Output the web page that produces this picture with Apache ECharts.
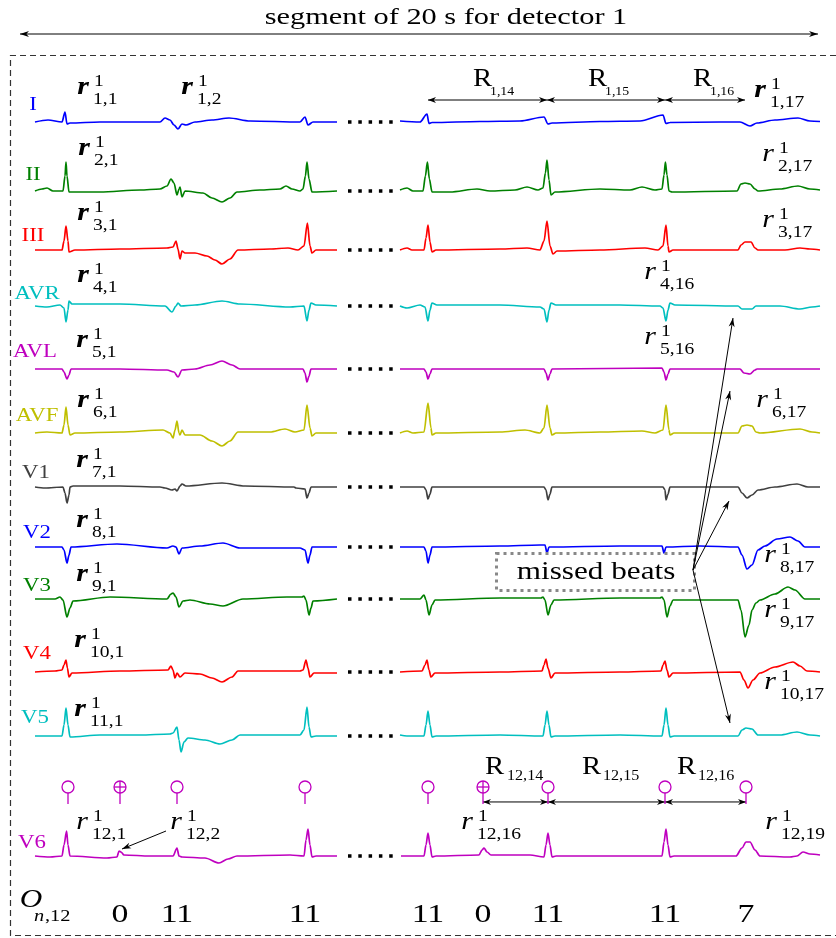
<!DOCTYPE html>
<html><head><meta charset="utf-8">
<script src="https://cdn.jsdelivr.net/npm/echarts@6/dist/echarts.min.js"></script>
<style>html,body{margin:0;padding:0;background:#fff}#c{width:836px;height:938px}</style>
</head><body><div id="c"></div>
<script>
// ---------------- DATA ----------------
const leadNames = ['I','II','III','AVR','AVL','AVF','V1','V2','V3','V4','V5','V6'];
// time (s), amplitude (mV) ; segment A (start of record) and segment B (end of record)
const lead01A = [[0,0],[0.325,0.2],[0.675,0],[0.75,1.0],[0.8,-0.2],[0.875,-0.1],[1.625,0],[3.125,0],[3.25,0.4],[3.375,0.2],[3.475,-0.3],[3.575,-0.7],[3.675,-0.2],[3.775,-0.3],[4.0,0],[4.425,0.2],[4.85,0.4],[5.375,0.1],[6.625,0],[6.75,0.5],[6.825,-0.3],[6.95,0],[7.55,0]];
const lead01B = [[9.125,0.1],[9.625,0],[9.8,0.8],[9.85,-0.15],[9.925,-0.05],[11.125,0.05],[12.125,0.1],[12.725,0.5],[12.825,-0.2],[12.925,-0.1],[14.125,0.05],[15.125,0.1],[15.7,0.7],[15.775,-0.15],[15.875,-0.05],[17.125,0],[17.625,0],[17.875,-0.4],[18.05,-0.1],[18.5,0.2],[19.075,0.4],[19.375,0.1],[19.625,0.05]];
const lead02A = [[0,0],[0.175,0.2],[0.3,0.3],[0.45,0],[0.7,0],[0.75,1.5],[0.775,2.9],[0.8,1.5],[0.85,-0.1],[1.625,-0.1],[2.625,0.1],[3.125,0.2],[3.3,0.5],[3.4,1.2],[3.475,0.8],[3.55,-0.4],[3.6,0.2],[3.625,0.4],[3.675,-0.6],[3.75,0],[4.2,-0.2],[4.425,-0.7],[4.675,-1.1],[4.875,-0.7],[5.05,-0.1],[5.625,0.1],[6.125,0.2],[6.275,0.5],[6.425,0.2],[6.625,0],[6.7,0.2],[6.76,1.5],[6.8,2.9],[6.85,1.2],[6.925,-0.1],[7.55,0]];
const lead02B = [[9.125,0.1],[9.3,0.3],[9.45,0],[9.7,0],[9.76,1.5],[9.81,2.9],[9.86,1.2],[9.925,-0.1],[10.375,-0.1],[11.05,0.2],[11.375,0],[12.0,0.1],[12.3,0.4],[12.575,0.1],[12.7,0.3],[12.76,1.8],[12.8,3.1],[12.85,1.1],[12.9,-0.4],[13.0,-0.1],[14.125,0.2],[14.875,0.1],[15.175,0.4],[15.5,0.1],[15.675,0.2],[15.725,1.6],[15.76,2.9],[15.8,1.6],[15.85,0],[15.925,-0.1],[17.55,0],[17.65,0.7],[17.75,0.8],[17.875,0.7],[18.0,0.2],[18.075,0],[18.625,0.2],[19.075,0.5],[19.375,0.2],[19.625,0.1]];
const lead03A = [[0,0],[0.675,0],[0.725,0.9],[0.775,2.4],[0.825,0.9],[0.85,-0.2],[1.0,0],[2.125,0.1],[3.3,0.2],[3.45,0.3],[3.525,0.9],[3.575,0.1],[3.625,-0.9],[3.675,-0.1],[3.75,-0.3],[4.0,-0.3],[4.3,-0.6],[4.5,-1.0],[4.675,-1.4],[4.875,-0.9],[5.075,0],[5.875,0.1],[6.325,0.2],[6.575,0],[6.725,0.4],[6.81,2.7],[6.875,0.4],[6.925,-0.3],[7.025,0],[7.55,0]];
const lead03B = [[9.125,0],[9.3,0.2],[9.425,0],[9.725,0],[9.775,1.2],[9.825,2.5],[9.875,0.8],[9.925,-0.2],[10.025,0],[11.625,0.1],[12.3,0.2],[12.625,0],[12.725,0.9],[12.8,2.9],[12.875,0.4],[12.95,-0.4],[13.05,-0.1],[14.125,0],[15.25,0.2],[15.575,0],[15.7,0.4],[15.775,2.5],[15.825,0.4],[15.85,-0.2],[15.95,0],[17.575,0],[17.65,0.5],[17.75,0.8],[17.9,0.8],[18.0,0.2],[18.075,0],[18.75,0],[19.125,0.2],[19.375,0.1],[19.625,0]];
const lead04A = [[0,0],[0.3,-0.1],[0.625,0.1],[0.725,-0.2],[0.775,-1.6],[0.825,-0.4],[0.85,0.5],[0.925,0.2],[2.125,0.2],[3.25,0],[3.425,-0.6],[3.525,0],[3.575,0.3],[3.65,0],[4.0,0.1],[4.675,0.5],[5.125,0.2],[6.375,-0.1],[6.725,0],[6.8,-1.5],[6.85,-0.4],[6.9,0.3],[7.025,0.1],[7.55,0]];
const lead04B = [[9.125,0],[9.3,-0.2],[9.625,0.1],[9.75,-0.1],[9.825,-1.5],[9.875,-0.4],[9.925,0.3],[10.05,0.1],[11.625,0.1],[12.625,-0.1],[12.725,-0.3],[12.8,-1.6],[12.85,-0.4],[12.9,0.3],[13.025,0.1],[14.625,0.1],[15.625,0],[15.7,-0.2],[15.775,-1.5],[15.825,-0.4],[15.875,0.3],[16.0,0.1],[17.575,0],[17.675,-0.3],[17.925,-0.3],[18.025,0],[18.625,0],[19.125,-0.3],[19.425,-0.1],[19.625,0]];
const lead05A = [[0,0],[0.675,0],[0.725,-0.3],[0.8,-1.0],[0.85,-0.6],[0.9,0],[2.125,0],[3.3,-0.1],[3.475,-0.3],[3.575,-0.8],[3.675,-0.1],[4.0,0],[4.375,0.4],[4.675,0.8],[4.925,0.4],[5.125,0],[6.7,0],[6.75,-0.4],[6.8,-1.3],[6.85,-0.7],[6.9,0],[7.55,0]];
const lead05B = [[9.125,0],[9.725,0],[9.775,-0.3],[9.825,-1.0],[9.875,-0.5],[9.925,0],[12.725,0],[12.775,-0.4],[12.825,-1.1],[12.875,-0.5],[12.925,0],[15.675,0.1],[15.725,-0.3],[15.775,-1.1],[15.825,-0.5],[15.875,0],[17.625,0],[17.725,-0.4],[17.875,-0.5],[18.0,-0.1],[18.05,0],[19.625,0]];
const lead06A = [[0,0],[0.3,0.1],[0.675,0],[0.725,0.8],[0.775,2.6],[0.825,0.8],[0.875,-0.2],[1.0,0],[2.125,0.1],[3.2,0.3],[3.375,0],[3.45,-0.5],[3.5,0.3],[3.55,1.2],[3.6,0],[3.625,-0.2],[3.675,0.3],[3.75,-0.2],[4.125,-0.2],[4.425,-0.8],[4.675,-1.3],[4.875,-0.8],[5.075,0.1],[5.875,0.1],[6.25,0.4],[6.5,0.1],[6.725,0.3],[6.8,2.8],[6.875,0.5],[6.925,-0.3],[7.025,0],[7.55,0]];
const lead06B = [[9.125,0],[9.3,0.2],[9.45,0],[9.725,0.1],[9.825,3.0],[9.9,0.5],[9.925,-0.2],[10.025,0],[11.625,0.1],[12.25,0.3],[12.625,0],[12.725,0.5],[12.8,2.8],[12.875,0.5],[12.925,-0.2],[13.025,0],[14.125,0.1],[15.175,0.2],[15.5,0],[15.7,0.3],[15.775,2.8],[15.85,0.3],[15.875,-0.2],[15.975,0],[17.575,0],[17.675,0.7],[17.8,0.8],[17.925,0.7],[18.025,0.1],[18.125,0],[19.125,0.4],[19.425,0.1],[19.625,0]];
const lead07A = [[0,0],[0.25,-0.1],[0.7,0],[0.75,-0.6],[0.8,-1.6],[0.85,-0.8],[0.875,0],[0.95,0.1],[2.125,0.1],[3.125,0],[3.25,-0.1],[3.425,-0.3],[3.5,-0.2],[3.55,-0.4],[3.625,0.1],[3.675,0.3],[3.775,0.1],[4.675,0.4],[5.25,0.1],[6.475,0],[6.525,-0.1],[6.75,-0.2],[6.8,-1.1],[6.85,-0.6],[6.9,0],[7.55,0]];
const lead07B = [[9.125,0],[9.725,0],[9.775,-0.3],[9.825,-1.2],[9.875,-0.7],[9.925,0],[12.725,0],[12.775,-0.3],[12.825,-1.3],[12.875,-0.7],[12.925,0],[15.7,0],[15.75,-0.3],[15.775,-1.3],[15.825,-0.7],[15.875,0],[17.575,0],[17.675,-0.6],[17.8,-1.1],[17.925,-0.8],[18.075,-0.3],[18.5,0],[19.05,0.3],[19.325,0],[19.625,0]];
const lead08A = [[0,0],[0.675,0],[0.725,-0.3],[0.8,-1.6],[0.85,-0.8],[0.9,0],[2.05,0.3],[3.3,-0.1],[3.45,0.1],[3.525,0],[3.6,-0.7],[3.675,-0.1],[4.125,0.1],[4.7,0.4],[5.125,-0.1],[6.625,-0.1],[6.75,-0.3],[6.825,-1.6],[6.875,-0.8],[6.925,0],[7.55,0]];
const lead08B = [[9.125,0],[9.725,0],[9.775,-0.4],[9.825,-1.6],[9.875,-0.8],[9.925,0],[11.625,0.1],[12.625,0.2],[12.75,0.2],[12.8,-0.6],[12.85,0],[14.625,0.1],[15.675,0.1],[15.725,-0.6],[15.775,0],[16.625,0.1],[17.575,0],[17.675,-0.8],[17.8,-2.2],[17.925,-1.8],[18.075,-0.3],[18.25,0.1],[18.55,0.8],[18.875,1.0],[19.075,0.6],[19.25,0],[19.625,0]];
const lead09A = [[0,0],[0.5,0],[0.625,0.2],[0.7,-0.1],[0.8,-1.8],[0.875,-0.9],[0.95,-0.2],[1.875,0.2],[3.3,0],[3.4,0.5],[3.45,0.6],[3.525,0.2],[3.6,-0.8],[3.7,-0.2],[3.875,-0.1],[4.375,-0.5],[4.7,-0.7],[5.2,0],[6.3,0.2],[6.675,0.2],[6.725,0.3],[6.775,-0.1],[6.85,-1.6],[6.9,-0.9],[6.95,-0.2],[7.55,0]];
const lead09B = [[9.125,0],[9.625,0],[9.725,0.4],[9.775,-0.1],[9.85,-1.6],[9.925,-0.6],[10.0,-0.1],[11.625,0.1],[12.65,0.1],[12.7,0.2],[12.75,-0.1],[12.825,-1.6],[12.9,-0.6],[12.975,-0.1],[14.625,0.1],[15.625,0.1],[15.675,0.2],[15.725,-0.1],[15.8,-1.8],[15.875,-0.7],[15.95,-0.1],[17.575,-0.1],[17.65,-1.1],[17.75,-3.8],[17.85,-2.6],[17.925,-1.1],[18.025,-0.4],[18.125,-0.1],[18.5,0.5],[18.825,1.2],[19.0,0.9],[19.25,0],[19.625,0]];
const lead10A = [[0,0],[0.5,0.1],[0.675,0.2],[0.725,0.7],[0.775,1.2],[0.81,0.4],[0.85,-0.5],[0.925,-0.1],[2.125,0.1],[3.325,0.2],[3.4,0.6],[3.45,0.2],[3.5,-0.6],[3.55,-0.1],[3.625,-0.5],[3.75,-0.1],[4.125,-0.2],[4.425,-0.6],[4.675,-1.0],[4.925,-0.5],[5.075,0.1],[6.625,0.1],[6.7,0.2],[6.775,1.2],[6.825,0.4],[6.875,-0.5],[6.975,-0.1],[7.55,-0.1]];
const lead10B = [[9.125,0],[9.675,0.1],[9.75,0.7],[9.8,1.2],[9.85,0.2],[9.9,-0.5],[10.0,-0.1],[11.625,0],[12.675,0.1],[12.725,0.7],[12.775,1.3],[12.825,0.4],[12.9,-0.6],[13.0,-0.1],[14.625,0],[15.65,0.1],[15.7,0.7],[15.75,1.1],[15.8,0.2],[15.85,-0.5],[15.95,-0.1],[17.625,0],[17.725,-0.8],[17.825,-1.6],[17.95,-0.8],[18.125,-0.1],[18.5,0.5],[18.95,1.0],[19.125,0.6],[19.3,0.1],[19.625,0]];
const lead11A = [[0,0],[0.675,0],[0.725,1.1],[0.775,2.8],[0.825,1.1],[0.875,-0.1],[1.625,0.1],[2.625,0.1],[3.375,0.2],[3.45,0.3],[3.55,0.9],[3.6,-0.4],[3.65,-1.6],[3.725,-0.6],[3.825,-0.2],[4.25,-0.4],[4.625,-0.8],[4.925,-0.4],[5.125,0.1],[6.625,0.1],[6.725,0.6],[6.8,2.9],[6.85,0.9],[6.9,-0.1],[7.025,0],[7.55,0]];
const lead11B = [[9.125,0.1],[9.3,0],[9.725,0],[9.775,1.1],[9.825,2.5],[9.875,1.1],[9.925,-0.1],[10.025,0],[11.625,0.1],[12.7,0],[12.75,1.1],[12.8,2.5],[12.85,1.1],[12.9,-0.1],[13.0,0],[14.625,0.1],[15.675,0],[15.725,1.1],[15.775,2.8],[15.825,1.1],[15.875,-0.1],[15.975,0],[17.575,0],[17.675,0.6],[17.775,0.8],[17.925,0.7],[18.075,0.1],[18.625,0.1],[19.05,0.4],[19.375,0.1],[19.625,0]];
const lead12A = [[0,0],[0.375,-0.1],[0.675,0],[0.725,1.1],[0.79,2.5],[0.825,1.1],[0.875,0],[1.8,-0.2],[2.05,-0.1],[2.1,0.5],[2.15,0.4],[2.225,0.1],[2.875,0],[3.45,0],[3.55,0.8],[3.6,0],[3.675,-0.1],[4.25,-0.2],[4.6,-0.7],[4.825,-0.3],[5.05,0],[6.375,0.1],[6.725,0],[6.775,1.6],[6.825,2.7],[6.875,1.1],[6.925,-0.1],[7.025,0],[7.55,0]];
const lead12B = [[9.15,0],[9.725,0],[9.775,1.1],[9.825,2.3],[9.875,1.1],[9.925,-0.1],[10.025,0],[11.1,0.1],[11.175,0.6],[11.225,0.8],[11.3,0.4],[11.4,0.1],[12.375,0.1],[12.725,-0.1],[12.775,1.1],[12.825,2.3],[12.875,1.1],[12.925,-0.1],[13.025,0],[14.625,0],[15.675,0],[15.725,1.4],[15.775,2.7],[15.825,1.1],[15.875,-0.1],[15.975,0],[17.525,0],[17.675,0.8],[17.775,1.4],[17.875,1.4],[18.0,0.6],[18.125,0],[18.875,-0.1],[19.05,0],[19.2,0.4],[19.375,0.2],[19.625,0.1]];
// omitted part of the record (dots)
const gapSpan = [7.825, 8.96];
// detected beats on V6 (s), missed flag, number of other leads that agree (O_n,12)
const beatTimes  = [0.825, 2.125, 3.55, 6.75, 9.825, 11.2, 12.825, 15.75, 17.775];
const beatMissed = [0, 1, 0, 0, 0, 1, 0, 0, 0];
const beatCounts = [null, 0, 11, 11, 11, 0, 11, 11, 7];
// RR intervals shown
const rrLead1 = [[9.825, 12.8], [12.8, 15.75], [15.75, 17.75]];
const rrLead12 = [[11.2, 12.825], [12.825, 15.75], [15.75, 17.775]];

// ---------------- STYLE / LAYOUT ----------------
const traces = [[lead01A,lead01B],[lead02A,lead02B],[lead03A,lead03B],[lead04A,lead04B],[lead05A,lead05B],[lead06A,lead06B],[lead07A,lead07B],[lead08A,lead08B],[lead09A,lead09B],[lead10A,lead10B],[lead11A,lead11B],[lead12A,lead12B]];
const leadColors = ['#0000ff','#008000','#ff0000','#00bfbf','#bf00bf','#bfbf00','#404040','#0000ff','#008000','#ff0000','#00bfbf','#bf00bf'];
const baseY = [122,191,250,306,369,433,487,547,599,672,736,856];
const labelPos = [[33,105],[33,175],[33,236],[37,294],[35,352],[37,416],[36,473],[37,533],[37,586],[37,654],[35,718],[32,843]];
const FONT = 'Liberation Serif';
const SX = 1.25;
const MAG = '#bf00bf';

const grids = [], xAxes = [], yAxes = [], series = [];
function addGrid(top, height, ymin, ymax) {
  grids.push({left: 35, width: 800, top: top, height: height});
  const i = grids.length - 1;
  xAxes.push({type:'value', gridIndex:i, min:0, max:20, show:false});
  yAxes.push({type:'value', gridIndex:i, min:ymin, max:ymax, show:false});
  return i;
}
traces.forEach((tr, k) => {
  const g = addGrid(baseY[k] - 50, 100, -5, 5);
  tr.forEach(seg => series.push({type:'line', xAxisIndex:g, yAxisIndex:g, data: seg, symbol:'none',
    smooth:0.3, smoothMonotone:'x',
    lineStyle:{color: leadColors[k], width:1.7}, silent:true, z:3}));
  series.push({type:'line', xAxisIndex:g, yAxisIndex:g, data:[[gapSpan[0],0],[gapSpan[1],0]], symbol:'none',
    lineStyle:{color:'#000', width:3.5, type:[3.5,6.8], cap:'butt'}, silent:true});
});
const gMark = addGrid(787, 17, 0, 1);
const gCount = addGrid(895, 40, 0, 1);

function headPts(x1, y1, x2, y2, len, hw) {
  const a = Math.atan2(y2 - y1, x2 - x1), c = Math.cos(a), s = Math.sin(a);
  const bx = x2 - len * c, by = y2 - len * s, nx = x2 - len * 0.7 * c, ny = y2 - len * 0.7 * s;
  return [[x2, y2], [bx - hw * s, by + hw * c], [nx, ny], [bx + hw * s, by - hw * c]];
}
function rrRender(yv) {
  return function (params, api) {
    const p1 = api.coord([api.value(0), yv]), p2 = api.coord([api.value(1), yv]);
    return {type:'group', children:[
      {type:'line', shape:{x1:p1[0], y1:p1[1], x2:p2[0], y2:p2[1]}, style:{stroke:'#000', lineWidth:1}},
      {type:'polygon', shape:{points: headPts(p2[0], p2[1], p1[0], p1[1], 8, 3)}, style:{fill:'#000'}},
      {type:'polygon', shape:{points: headPts(p1[0], p1[1], p2[0], p2[1], 8, 3)}, style:{fill:'#000'}}
    ]};
  };
}
series.push({type:'custom', xAxisIndex:0, yAxisIndex:0, data: rrLead1, renderItem: rrRender(2.2), silent:true, z:5});
series.push({type:'custom', xAxisIndex:gMark, yAxisIndex:gMark, data: rrLead12, renderItem: rrRender(0.12), silent:true, z:5});
series.push({type:'custom', xAxisIndex:gMark, yAxisIndex:gMark,
  data: beatTimes.map((t, i) => [t, beatMissed[i]]),
  renderItem: function (params, api) {
    const t = api.value(0), miss = api.value(1);
    const c = api.coord([t, 1]), b = api.coord([t, 0]);
    const r = 6, st = {stroke: MAG, lineWidth: 1.3, fill: 'none'};
    const ch = [{type:'circle', shape:{cx:c[0], cy:c[1], r:r}, style: st},
      {type:'line', shape:{x1:c[0], y1:c[1] + r, x2:b[0], y2:b[1]}, style: st}];
    if (miss) {
      ch.push({type:'line', shape:{x1:c[0] - r, y1:c[1], x2:c[0] + r, y2:c[1]}, style: st});
      ch.push({type:'line', shape:{x1:c[0], y1:c[1] - r, x2:c[0], y2:c[1] + r}, style: st});
    }
    return {type:'group', children: ch};
  }, silent:true, z:6});
series.push({type:'custom', xAxisIndex:gCount, yAxisIndex:gCount,
  data: beatTimes.map((t, i) => [t, 0.5, beatCounts[i]]).filter(d => d[2] !== null),
  renderItem: function (params, api) {
    const p = api.coord([api.value(0), api.value(1)]);
    return {type:'text', x:p[0], y:p[1], scaleX: 1.3,
      style:{text: String(api.value(2)), fontFamily: FONT, fontSize: 26, fill:'#000', align:'center', verticalAlign:'middle'}};
  }, silent:true});

// ---------------- ANNOTATIONS ----------------
const G = [];
function T(x, y, text, size, o) {
  o = o || {};
  G.push({type:'text', x:x, y:y, scaleX: o.sx || SX, z:20, silent:true,
    style:{text:text, fontFamily: FONT, fontSize:size, fontStyle: o.it ? 'italic' : 'normal',
      fontWeight: o.b ? 'bold' : 'normal', fill: o.c || '#000', align: o.al || 'left', verticalAlign:'middle'}});
}
function arrowG(x1, y1, x2, y2, both) {
  G.push({type:'line', z:20, silent:true, shape:{x1:x1, y1:y1, x2:x2, y2:y2}, style:{stroke:'#000', lineWidth:1}});
  G.push({type:'polygon', z:20, silent:true, shape:{points: headPts(x1, y1, x2, y2, 9, 3)}, style:{fill:'#000'}});
  if (both) G.push({type:'polygon', z:20, silent:true, shape:{points: headPts(x2, y2, x1, y1, 9, 3)}, style:{fill:'#000'}});
}
// frame
G.push({type:'polyline', silent:true, shape:{points:[[836,55.5],[10.5,55.5],[10.5,935.5],[836,935.5]]},
  style:{stroke:'#333', lineWidth:1.2, lineDash:[6,4], fill:null}});
// title
T(446, 18, 'segment of 20 s for detector 1', 23, {al:'center', sx:1.32});
arrowG(20, 34, 818, 34, true);
// lead names
leadNames.forEach((n, k) => T(labelPos[k][0], labelPos[k][1], n, 19, {al:'center', c: leadColors[k], sx:1.2}));
// r labels: [r centre x, r centre y, subscript, bold]
const rLabels = [[83,90,'1,1',1],[187,90,'1,2',1],[760,93,'1,17',1],[84,151,'2,1',1],[83,216,'3,1',1],[83,278,'4,1',1],
  [82,343,'5,1',1],[83,403,'6,1',1],[82,463,'7,1',1],[82,523,'8,1',1],[82,577,'9,1',1],[80,643,'10,1',1],[80,712,'11,1',1],
  [82,825,'12,1',0],[176,825,'12,2',0],[467,825,'12,16',0],[771,825,'12,19',0],[768,157,'2,17',0],[768,223,'3,17',0],
  [650,275,'4,16',0],[650,340,'5,16',0],[762,403,'6,17',0],[770,558,'8,17',0],[770,613,'9,17',0],[770,685,'10,17',0]];
rLabels.forEach(l => {
  T(l[0], l[1] - 3, 'r', 26, {al:'center', it:true, b: !!l[3], sx:1.15});
  T(l[0] + 11, l[1] - 8, '1', 17, {sx:1.15});
  T(l[0] + 10, l[1] + 10, l[2], 17, {sx:1.15});
});
// RR labels
[[473,79,490,92,'1,14',12],[588,79,605,92,'1,15',12],[693,79,710,92,'1,16',12],
 [485,767,507,776,'12,14',14],[582,767,603,776,'12,15',14],[677,767,698,776,'12,16',14]].forEach(l => {
  T(l[0], l[1], 'R', 25, {sx:1.15});
  T(l[2], l[3], l[4], l[5], {sx:1.15});
});
// O_n,12
T(31, 900, 'O', 26, {al:'center', it:true, sx:1.2});
T(34, 917, 'n', 17, {it:true, sx:1.2});
T(45, 917, ',12', 17, {sx:1.2});
// missed beats box
G.push({type:'rect', silent:true, z:15, shape:{x:496.5, y:553.5, width:198, height:37},
  style:{stroke:'#888', lineWidth:3, lineDash:[3,4], fill:null}});
T(596, 572, 'missed beats', 26, {al:'center', sx:1.2});
[[733,318],[730,391],[729,501],[730,723]].forEach(p => arrowG(693, 570, p[0], p[1], false));
// pointer to r_12,2
arrowG(166, 831, 122, 849, false);

const chart = echarts.init(document.getElementById('c'), null, {renderer:'canvas'});
chart.setOption({animation:false, backgroundColor:'#fff', grid: grids, xAxis: xAxes, yAxis: yAxes, series: series, graphic: G});
</script></body></html>
